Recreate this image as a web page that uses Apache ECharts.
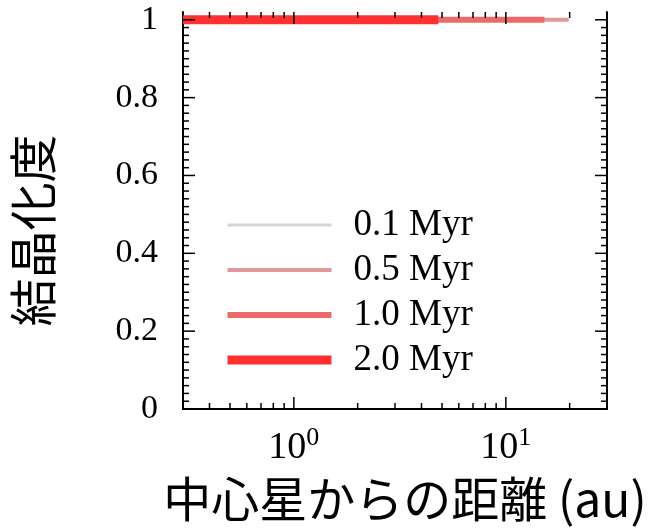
<!DOCTYPE html>
<html>
<head>
<meta charset="utf-8">
<script src="https://cdn.jsdelivr.net/npm/echarts@6/dist/echarts.min.js"></script>
<style>
html,body{margin:0;padding:0;background:#fff;}
#chart{width:651px;height:532px;}
</style>
</head>
<body>
<div id="chart"></div>
<script>
// ---- data ----
const seriesNames = ['0.1 Myr', '0.5 Myr', '1.0 Myr', '2.0 Myr'];
const series01 = [[0.3, 1], [3.0, 1]];
const series05 = [[0.3, 1], [19.8, 1]];
const series10 = [[0.3, 1], [15.2, 1]];
const series20 = [[0.3, 1], [4.8, 1]];
const seriesColors = ['#d4d4d4', '#e0999a', '#ea6a6a', '#ff3030'];
const seriesWidths = [3, 4, 6, 9];

const xRange = [0.3, 30];
const yRange = [0, 1.02];
const xMajorTicks = [1, 10];
const xMinorTicks = [0.4, 0.5, 0.6, 0.7, 0.8, 0.9, 2, 3, 4, 5, 6, 7, 8, 9, 20];
const yMajorTicks = [0, 0.2, 0.4, 0.6, 0.8, 1.0];
const yMinorTicks = [0.02, 0.04, 0.06, 0.08, 0.1, 0.12, 0.14, 0.16, 0.18,
  0.22, 0.24, 0.26, 0.28, 0.3, 0.32, 0.34, 0.36, 0.38,
  0.42, 0.44, 0.46, 0.48, 0.5, 0.52, 0.54, 0.56, 0.58,
  0.62, 0.64, 0.66, 0.68, 0.7, 0.72, 0.74, 0.76, 0.78,
  0.82, 0.84, 0.86, 0.88, 0.9, 0.92, 0.94, 0.96, 0.98];

const xTitle = '中心星からの距離 (au)';
const yTitle = '結晶化度';

// ---- build ----
const serif = 'Liberation Serif';
const cjk = 'Noto Sans CJK JP';
const MAJOR = 12, MINOR = 6;

const tickData = [];
xMajorTicks.forEach(v => tickData.push([v, 0.5, 0, MAJOR]));
xMinorTicks.forEach(v => tickData.push([v, 0.5, 0, MINOR]));
yMajorTicks.forEach(v => tickData.push([1, v, 1, MAJOR]));
yMinorTicks.forEach(v => tickData.push([1, v, 1, MINOR]));

const lineData = [series01, series05, series10, series20];

const chart = echarts.init(document.getElementById('chart'), null, {renderer: 'canvas'});

const option = {
  animation: false,
  backgroundColor: '#ffffff',
  grid: {left: 183, right: 44, top: 12, bottom: 123, containLabel: false, outerBoundsMode: 'none'},
  legend: {
    orient: 'vertical',
    left: 218,
    top: 200,
    itemWidth: 104,
    itemHeight: 14,
    itemGap: 5,
    lineStyle: {width: 'inherit'},
    itemStyle: {opacity: 0, borderWidth: 0},
    textStyle: {fontFamily: serif, fontSize: 37, color: '#000', lineHeight: 40, padding: [0, 0, 0, 17]},
    data: seriesNames
  },
  xAxis: [{
    type: 'log', logBase: 10, min: xRange[0], max: xRange[1],
    position: 'bottom',
    name: xTitle, nameLocation: 'middle', nameGap: 66,
    nameTextStyle: {fontFamily: cjk, fontSize: 48, color: '#000', padding: [0, 0, 0, 20]},
    axisLine: {show: true, lineStyle: {color: '#000', width: 2}},
    axisTick: {show: false},
    splitLine: {show: false},
    minorTick: {show: false},
    axisLabel: {
      margin: 16,
      color: '#000',
      formatter: function (v) {
        const e = Math.log10(v);
        if (Math.abs(e - Math.round(e)) < 1e-6) return '{b|10}{s|' + Math.round(e) + '}';
        return '';
      },
      rich: {
        b: {fontFamily: serif, fontSize: 38, lineHeight: 42, color: '#000', verticalAlign: 'bottom'},
        s: {fontFamily: serif, fontSize: 26, lineHeight: 42, color: '#000', verticalAlign: 'top'}
      }
    }
  }, {
    type: 'log', logBase: 10, min: xRange[0], max: xRange[1],
    position: 'top',
    axisLine: {show: true, lineStyle: {color: '#000', width: 2}},
    axisTick: {show: false}, axisLabel: {show: false}, splitLine: {show: false}
  }],
  yAxis: [{
    type: 'value', min: yRange[0], max: yRange[1], interval: 0.2,
    position: 'left',
    name: yTitle, nameLocation: 'middle', nameGap: 126, nameRotate: 90,
    nameTextStyle: {fontFamily: cjk, fontSize: 48, color: '#000', padding: [0, 40, 0, 0]},
    axisLine: {show: true, lineStyle: {color: '#000', width: 2}},
    axisTick: {show: false},
    splitLine: {show: false},
    axisLabel: {
      margin: 25, fontFamily: serif, fontSize: 34, color: '#000',
      formatter: function (v) {
        const k = Math.round(v * 5);
        if (Math.abs(v * 5 - k) < 1e-6) return String(Math.round(v * 10) / 10);
        return '';
      }
    }
  }, {
    type: 'value', min: yRange[0], max: yRange[1], interval: 0.2,
    position: 'right',
    axisLine: {show: true, lineStyle: {color: '#000', width: 2}},
    axisTick: {show: false}, axisLabel: {show: false}, splitLine: {show: false}
  }],
  series: seriesNames.map((n, i) => ({
    name: n,
    type: 'line',
    xAxisIndex: 0, yAxisIndex: 0,
    data: lineData[i],
    symbol: 'none',
    showSymbol: false,
    clip: true,
    color: seriesColors[i],
    lineStyle: {color: seriesColors[i], width: seriesWidths[i], cap: 'butt'},
    z: 2 + i
  })).concat([{
    type: 'custom',
    name: 'ticks',
    xAxisIndex: 0, yAxisIndex: 0,
    data: tickData,
    z: 10,
    silent: true,
    clip: false,
    renderItem: function (params, api) {
      const v0 = api.value(0), v1 = api.value(1), kind = api.value(2), len = api.value(3);
      const style = {stroke: '#000', lineWidth: 1.5};
      if (kind === 0) {
        const b = api.coord([v0, yRange[0]]);
        const t = api.coord([v0, yRange[1]]);
        return {type: 'group', children: [
          {type: 'line', shape: {x1: b[0], y1: b[1], x2: b[0], y2: b[1] - len}, style: style},
          {type: 'line', shape: {x1: t[0], y1: t[1], x2: t[0], y2: t[1] + len}, style: style}
        ]};
      } else {
        const l = api.coord([xRange[0], v1]);
        const r = api.coord([xRange[1], v1]);
        return {type: 'group', children: [
          {type: 'line', shape: {x1: l[0], y1: l[1], x2: l[0] + len, y2: l[1]}, style: style},
          {type: 'line', shape: {x1: r[0], y1: r[1], x2: r[0] - len, y2: r[1]}, style: style}
        ]};
      }
    }
  }])
};
chart.setOption(option);
</script>
</body>
</html>
